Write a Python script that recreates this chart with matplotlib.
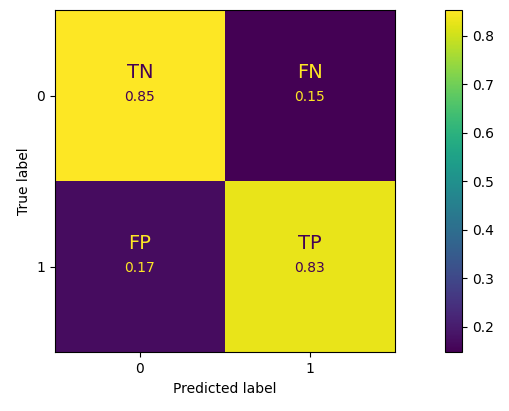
import matplotlib
matplotlib.use("Agg")
import matplotlib.pyplot as plt
import numpy as np

# normalized confusion matrix (rows = true label, cols = predicted label)
classes = ["0", "1"]
cm = np.array([[0.853, 0.147],
               [0.170, 0.830]])
cell_names = [["TN", "FN"],
              ["FP", "TP"]]

cmap = plt.get_cmap("viridis")
fig = plt.figure(figsize=(5.09, 4.11), dpi=100)
ax = fig.add_axes([0.108, 0.143, 0.668, 0.832])
cax = fig.add_axes([0.874, 0.143, 0.034, 0.832])

im = ax.imshow(cm, cmap=cmap, interpolation="nearest", aspect="auto")
cb = fig.colorbar(im, cax=cax)
cb.ax.tick_params(labelsize=10)

thresh = (cm.max() + cm.min()) / 2
for i in range(cm.shape[0]):
    for j in range(cm.shape[1]):
        col = cmap(0) if cm[i, j] > thresh else cmap(1.0)
        ax.text(j, i - 0.135, cell_names[i][j], ha="center", va="center", fontsize=14, color=col)
        ax.text(j, i + 0.01, f"{cm[i, j]:.2f}", ha="center", va="center", fontsize=10, color=col)

ax.set_xticks(range(len(classes)))
ax.set_xticklabels(classes)
ax.set_yticks(range(len(classes)))
ax.set_yticklabels(classes)
ax.set_xlabel("Predicted label")
ax.set_ylabel("True label")

fig.savefig("out.png", dpi=100)
